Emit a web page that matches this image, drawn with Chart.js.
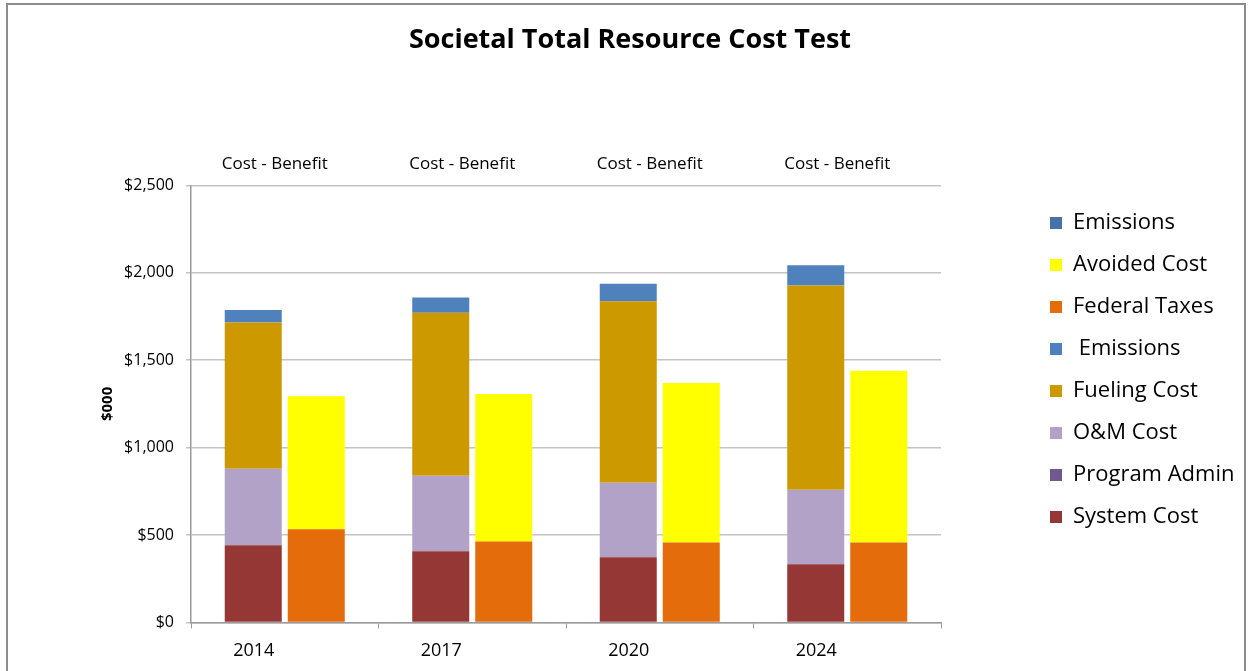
<!DOCTYPE html>
<html>
<head>
<meta charset="utf-8">
<script src="https://cdn.jsdelivr.net/npm/chart.js@4.4.1/dist/chart.umd.min.js"></script>
<style>
	html, body { margin: 0; padding: 0; background: #fff; }
	#wrap { position: relative; width: 1249px; height: 671px; overflow: hidden; }
	#frame { position: absolute; left: 6px; top: 3px; width: 1240px; height: 700px; border: 2px solid #8c8c8c; box-sizing: border-box; pointer-events: none; }
	canvas { position: absolute; left: 0; top: 0; }
</style>
</head>
<body>
<div id="wrap">
	<canvas id="tcr-chart" width="1249" height="671"></canvas>
	<div id="frame"></div>
</div>
<script>
const years = ["2014", "2017", "2020", "2024"];
const yTicks = [0, 500, 1000, 1500, 2000, 2500];

// cost stack ($000)
const systemCost = [441, 407, 373, 333];
const programAdmin = [0, 0, 0, 0];
const omCost = [438, 432, 426, 426];
const fuelingCost = [837, 933, 1038, 1169];
const costEmissions = [71, 86, 101, 115];

// benefit stack ($000)
const federalTaxes = [533, 463, 457, 457];
const avoidedCost = [761, 844, 912, 982];
const benefitEmissions = [0, 0, 0, 0];

const groupLabel = "Cost - Benefit";
const fontFamily = "'Open Sans', sans-serif";

// legend box sizing (excel leaves a wide gap between plot and legend)
const legendWidth = 304;
const legendShiftX = 89;
const legendShiftY = 33;

const makeSet = (label, data, color, stack) => ({
	label: label,
	data: data,
	backgroundColor: color,
	borderWidth: 0,
	stack: stack,
	categoryPercentage: 0.672,
	barPercentage: 0.905,
});

const datasets = [
	makeSet("System Cost", systemCost, "#953735", "cost"),
	makeSet("Program Admin", programAdmin, "#71588F", "cost"),
	makeSet("O&M Cost", omCost, "#B3A2C7", "cost"),
	makeSet("Fueling Cost", fuelingCost, "#CC9900", "cost"),
	makeSet(" Emissions", costEmissions, "#4F81BD", "cost"),
	makeSet("Federal Taxes", federalTaxes, "#E46C0A", "benefit"),
	makeSet("Avoided Cost", avoidedCost, "#FFFF00", "benefit"),
	makeSet("Emissions", benefitEmissions, "#4572A7", "benefit"),
];

// "Cost - Benefit" caption over every year group
const groupCaptions = {
	id: "groupCaptions",
	afterDraw(chart) {
		const ctx = chart.ctx;
		const xScale = chart.scales.x;
		ctx.save();
		ctx.font = "17px " + fontFamily;
		ctx.fillStyle = "#000";
		ctx.textAlign = "center";
		ctx.textBaseline = "middle";
		years.forEach((y, i) => {
			ctx.fillText(groupLabel, xScale.getPixelForValue(i) - 10, chart.chartArea.top - 21);
		});
		ctx.restore();
	},
};

const legendSpacer = {
	id: "legendSpacer",
	beforeInit(chart) {
		const origFit = chart.legend.fit;
		chart.legend.fit = function () {
			origFit.call(this);
			this.width = legendWidth;
		};
	},
	afterLayout(chart) {
		const lg = chart.legend;
		lg.left += legendShiftX;
		lg.top += legendShiftY;
		lg.bottom += legendShiftY;
	},
};

new Chart(document.getElementById("tcr-chart"), {
	type: "bar",
	data: { labels: years, datasets: datasets },
	options: {
		responsive: false,
		animation: false,
		layout: { padding: { left: 15, right: 4, bottom: -3, top: 0 } },
		plugins: {
			title: {
				display: true,
				text: "Societal Total Resource Cost Test",
				color: "#000",
				font: { family: fontFamily, size: 27, weight: "bold" },
				padding: { top: 24, bottom: 129 },
			},
			legend: {
				position: "right",
				reverse: true,
				labels: {
					boxWidth: 12,
					boxHeight: 12,
					padding: 20,
					color: "#000",
					font: { family: fontFamily, size: 22 },
				},
			},
			tooltip: { enabled: false },
		},
		scales: {
			x: {
				stacked: true,
				grid: { drawOnChartArea: false, drawTicks: true, tickLength: 6, color: "#9a9a9a" },
				border: { color: "#9a9a9a", width: 1.5 },
				ticks: { color: "#000", padding: 12, labelOffset: -31, font: { family: fontFamily, size: 18 } },
			},
			y: {
				stacked: true,
				min: yTicks[0],
				max: yTicks[yTicks.length - 1],
				afterBuildTicks(scale) {
					scale.ticks = yTicks.map((v) => ({ value: v }));
				},
				afterFit(scale) {
					scale.width = 176;
				},
				grid: { color: "#c4c4c4", lineWidth: 1.5, tickLength: 5 },
				border: { color: "#9a9a9a", width: 1.5 },
				ticks: {
					color: "#000",
					padding: 12,
					font: { family: fontFamily, size: 16 },
					callback: (v) => "$" + v.toLocaleString("en-US"),
				},
				title: {
					display: true,
					text: "$000",
					color: "#000",
					padding: { top: 84, bottom: 0 },
					font: { family: fontFamily, size: 15, weight: "bold" },
				},
			},
		},
	},
	plugins: [groupCaptions, legendSpacer],
});
</script>
</body>
</html>
